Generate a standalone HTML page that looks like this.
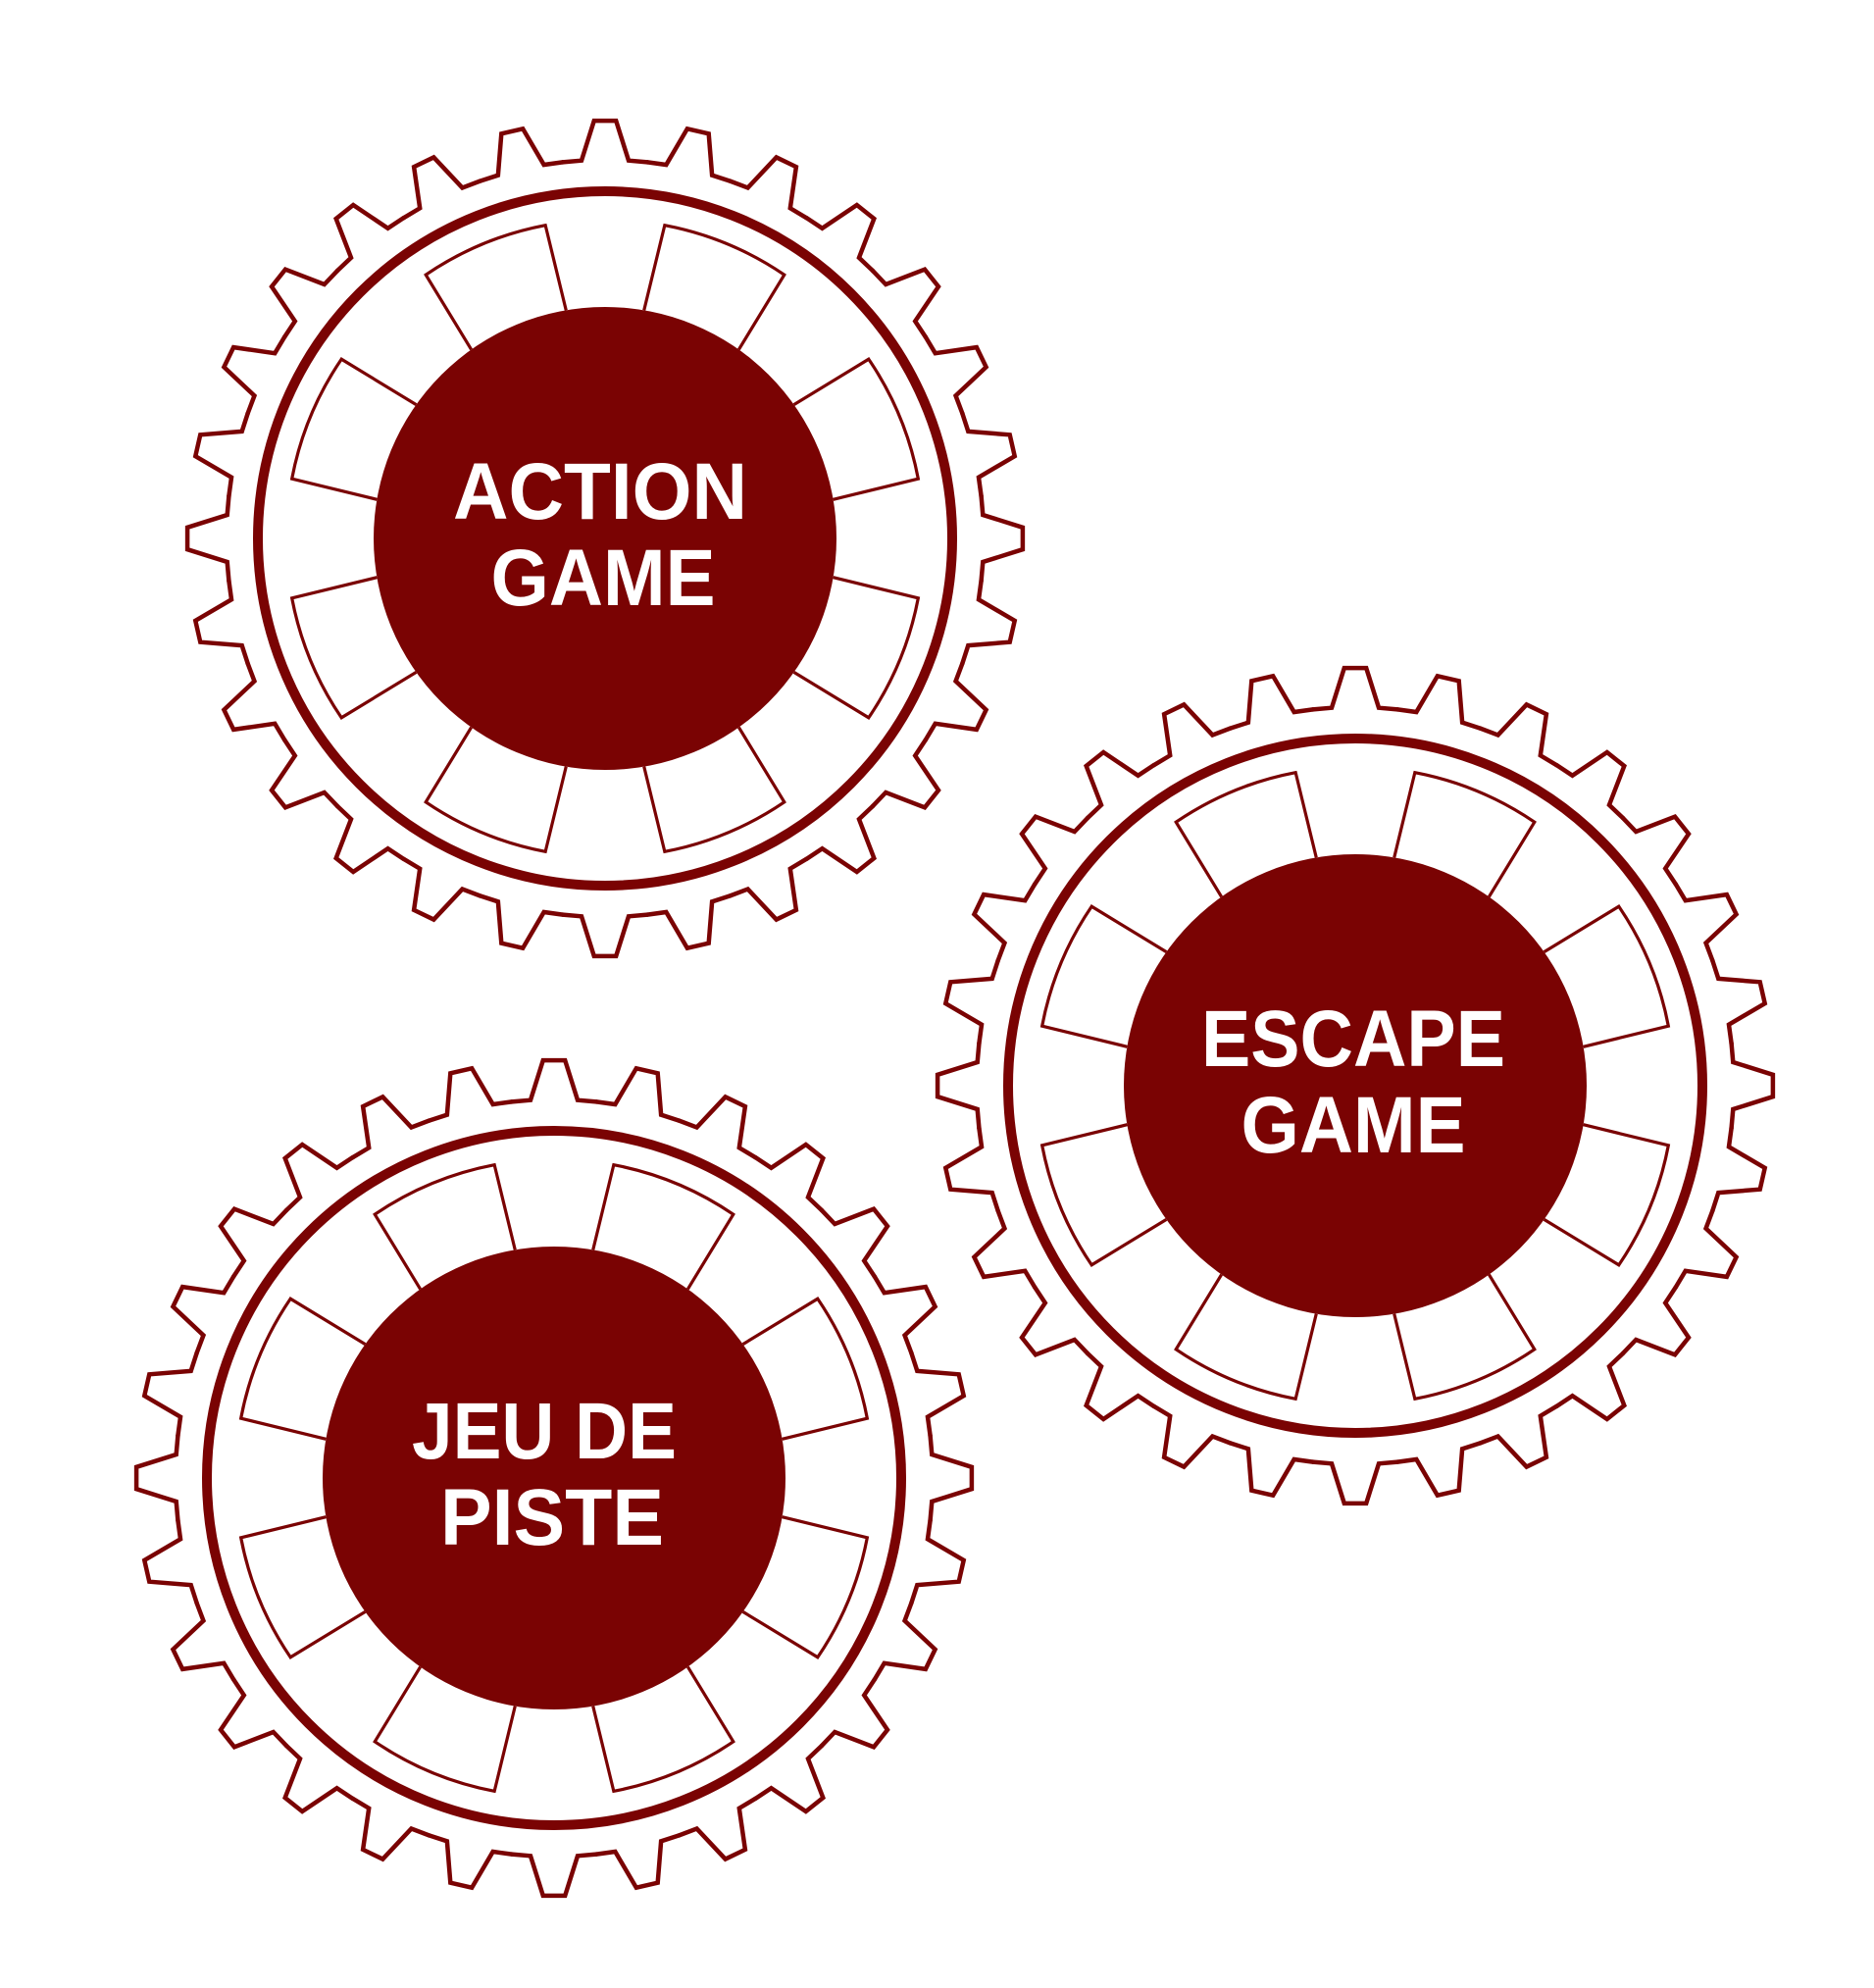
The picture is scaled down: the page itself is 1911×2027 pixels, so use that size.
<!DOCTYPE html>
<html><head><meta charset="utf-8"><style>html,body{margin:0;padding:0;background:#fff}svg{display:block}</style></head>
<body>
<svg width="1911" height="2027" viewBox="0 0 1911 2027" xmlns="http://www.w3.org/2000/svg">
<defs>
<polyline id="tooth" points="-43.2,-383.6 -24,-385.3 -11.2,-425.9 11.2,-425.9 24,-385.3 43.2,-383.6" fill="none" stroke="#7a0303" stroke-width="4.5" stroke-linejoin="miter" stroke-linecap="round"/>
<path id="blk" d="M -52.3 -230.1 L -66 -318.3 A 325 325 0 0 1 66 -318.3 L 52.3 -230.1" fill="none" stroke="#7a0303" stroke-width="3.2"/>
<g id="gear">
<use href="#tooth" transform="rotate(0)"/><use href="#tooth" transform="rotate(12.857)"/><use href="#tooth" transform="rotate(25.714)"/><use href="#tooth" transform="rotate(38.571)"/><use href="#tooth" transform="rotate(51.429)"/><use href="#tooth" transform="rotate(64.286)"/><use href="#tooth" transform="rotate(77.143)"/><use href="#tooth" transform="rotate(90)"/><use href="#tooth" transform="rotate(102.857)"/><use href="#tooth" transform="rotate(115.714)"/><use href="#tooth" transform="rotate(128.571)"/><use href="#tooth" transform="rotate(141.429)"/><use href="#tooth" transform="rotate(154.286)"/><use href="#tooth" transform="rotate(167.143)"/><use href="#tooth" transform="rotate(180)"/><use href="#tooth" transform="rotate(192.857)"/><use href="#tooth" transform="rotate(205.714)"/><use href="#tooth" transform="rotate(218.571)"/><use href="#tooth" transform="rotate(231.429)"/><use href="#tooth" transform="rotate(244.286)"/><use href="#tooth" transform="rotate(257.143)"/><use href="#tooth" transform="rotate(270)"/><use href="#tooth" transform="rotate(282.857)"/><use href="#tooth" transform="rotate(295.714)"/><use href="#tooth" transform="rotate(308.571)"/><use href="#tooth" transform="rotate(321.429)"/><use href="#tooth" transform="rotate(334.286)"/><use href="#tooth" transform="rotate(347.143)"/>
<circle r="354" fill="none" stroke="#7a0303" stroke-width="10"/>
<use href="#blk" transform="rotate(22.5)"/><use href="#blk" transform="rotate(67.5)"/><use href="#blk" transform="rotate(112.5)"/><use href="#blk" transform="rotate(157.5)"/><use href="#blk" transform="rotate(202.5)"/><use href="#blk" transform="rotate(247.5)"/><use href="#blk" transform="rotate(292.5)"/><use href="#blk" transform="rotate(337.5)"/>
<circle r="236" fill="#7a0303"/>
</g>
</defs>
<g font-family="Liberation Sans, Arial, sans-serif" font-weight="bold" font-size="82" fill="#fff" text-anchor="middle">
<g transform="translate(617,549)">
<use href="#gear"/>
<text x="-5" y="-20" textLength="300" lengthAdjust="spacingAndGlyphs">ACTION</text>
<text x="-2" y="68" textLength="229" lengthAdjust="spacingAndGlyphs">GAME</text>
</g>
<g transform="translate(1382,1107)">
<use href="#gear"/>
<text x="-2" y="-20" textLength="310" lengthAdjust="spacingAndGlyphs">ESCAPE</text>
<text x="-2" y="68" textLength="229" lengthAdjust="spacingAndGlyphs">GAME</text>
</g>
<g transform="translate(565,1507)">
<use href="#gear"/>
<text x="-10" y="-20" textLength="270" lengthAdjust="spacingAndGlyphs">JEU DE</text>
<text x="-2" y="68" textLength="228" lengthAdjust="spacingAndGlyphs">PISTE</text>
</g>
</g>
</svg>
</body></html>
